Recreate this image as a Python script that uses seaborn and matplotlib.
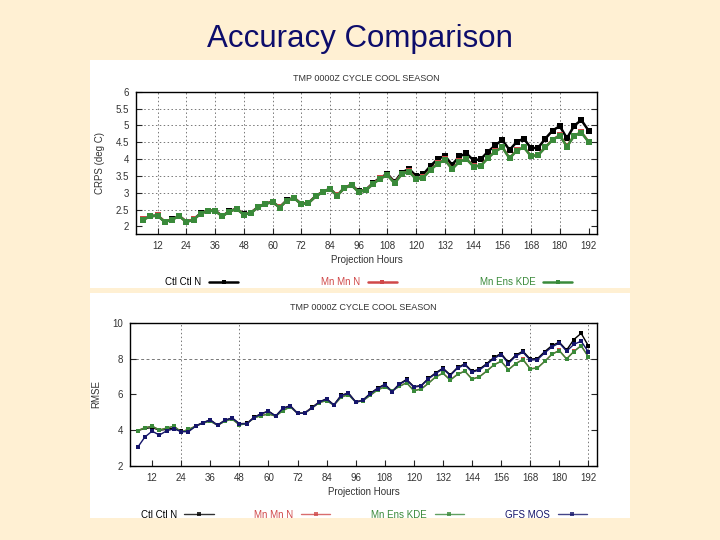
import matplotlib
matplotlib.use("Agg")
import matplotlib.pyplot as plt
from matplotlib.patches import Rectangle
import seaborn as sns

# ---- data -------------------------------------------------------------
hours = list(range(6, 193, 3))
x_ticks = [12, 24, 36, 48, 60, 72, 84, 96, 108, 120, 132, 144, 156, 168, 180, 192]

# top panel: CRPS
crps_ctl = [2.21, 2.31, 2.32, 2.14, 2.21, 2.31, 2.14, 2.21, 2.39, 2.47,
            2.47, 2.31, 2.45, 2.53, 2.36, 2.41, 2.58, 2.68, 2.73, 2.57,
            2.78, 2.85, 2.67, 2.70, 2.90, 3.03, 3.12, 2.92, 3.15, 3.24,
            3.04, 3.09, 3.29, 3.45, 3.56, 3.32, 3.60, 3.71, 3.50, 3.55,
            3.80, 4.00, 4.10, 3.83, 4.08, 4.17, 3.96, 4.00, 4.22, 4.41,
            4.57, 4.27, 4.51, 4.61, 4.32, 4.34, 4.61, 4.85, 4.98, 4.62,
            4.99, 5.16, 4.85]
crps_mn = [2.21, 2.30, 2.33, 2.14, 2.20, 2.31, 2.14, 2.21, 2.38, 2.47,
           2.46, 2.31, 2.44, 2.53, 2.35, 2.41, 2.57, 2.68, 2.72, 2.57,
           2.77, 2.85, 2.66, 2.70, 2.89, 3.03, 3.11, 2.92, 3.14, 3.23,
           3.03, 3.08, 3.27, 3.43, 3.53, 3.29, 3.56, 3.64, 3.41, 3.46,
           3.69, 3.87, 3.99, 3.71, 3.93, 4.01, 3.79, 3.81, 4.04, 4.23,
           4.36, 4.03, 4.26, 4.36, 4.09, 4.13, 4.36, 4.58, 4.71, 4.38,
           4.70, 4.80, 4.52]
crps_kde = [2.20, 2.30, 2.32, 2.13, 2.20, 2.31, 2.13, 2.20, 2.38, 2.46,
            2.46, 2.30, 2.44, 2.52, 2.35, 2.40, 2.57, 2.67, 2.72, 2.56,
            2.77, 2.84, 2.66, 2.69, 2.89, 3.02, 3.11, 2.91, 3.14, 3.22,
            3.02, 3.07, 3.26, 3.42, 3.52, 3.28, 3.55, 3.63, 3.40, 3.45,
            3.68, 3.86, 3.98, 3.70, 3.92, 4.00, 3.78, 3.80, 4.03, 4.22,
            4.35, 4.02, 4.25, 4.35, 4.08, 4.12, 4.35, 4.57, 4.70, 4.37,
            4.69, 4.79, 4.51]
crps_yticks = [2, 2.5, 3, 3.5, 4, 4.5, 5, 5.5, 6]
crps_ylabels = ["2", "2.5", "3", "3.5", "4", "4.5", "5", "5.5", "6"]

# bottom panel: RMSE
rmse_ctl = [3.98, 4.10, 4.15, 4.00, 4.05, 4.12, 3.93, 3.95, 4.25, 4.43,
            4.58, 4.29, 4.56, 4.69, 4.37, 4.38, 4.72, 4.93, 5.07, 4.80,
            5.24, 5.37, 4.96, 4.98, 5.28, 5.59, 5.76, 5.42, 5.96, 6.08,
            5.59, 5.69, 6.06, 6.35, 6.57, 6.17, 6.59, 6.84, 6.44, 6.50,
            6.90, 7.21, 7.47, 7.10, 7.51, 7.71, 7.29, 7.41, 7.72, 8.07,
            8.29, 7.79, 8.20, 8.42, 7.98, 8.01, 8.40, 8.74, 8.92, 8.48,
            9.07, 9.42, 8.72]
rmse_mn = [3.98, 4.14, 4.22, 4.02, 4.12, 4.22, 3.91, 4.05, 4.23, 4.41,
           4.51, 4.28, 4.51, 4.63, 4.31, 4.37, 4.68, 4.83, 4.91, 4.79,
           5.11, 5.31, 4.95, 4.97, 5.25, 5.56, 5.66, 5.41, 5.86, 5.99,
           5.58, 5.66, 5.96, 6.26, 6.43, 6.21, 6.46, 6.66, 6.22, 6.31,
           6.63, 6.99, 7.19, 6.82, 7.13, 7.31, 6.87, 6.99, 7.31, 7.66,
           7.86, 7.39, 7.73, 7.96, 7.44, 7.49, 7.86, 8.26, 8.46, 7.99,
           8.41, 8.73, 8.11]
rmse_kde = [3.97, 4.14, 4.23, 4.01, 4.12, 4.23, 3.90, 4.05, 4.23, 4.40,
            4.50, 4.28, 4.50, 4.62, 4.30, 4.36, 4.68, 4.82, 4.90, 4.79,
            5.10, 5.30, 4.95, 4.96, 5.24, 5.55, 5.65, 5.40, 5.85, 5.98,
            5.57, 5.65, 5.95, 6.25, 6.42, 6.20, 6.45, 6.65, 6.20, 6.30,
            6.62, 6.98, 7.18, 6.80, 7.12, 7.30, 6.85, 6.98, 7.30, 7.65,
            7.85, 7.38, 7.72, 7.95, 7.43, 7.48, 7.85, 8.25, 8.45, 7.98,
            8.40, 8.72, 8.10]
rmse_mos = [3.04, 3.62, 3.95, 3.73, 3.97, 4.08, 3.92, 3.92, 4.23, 4.42,
            4.57, 4.27, 4.55, 4.68, 4.36, 4.36, 4.70, 4.92, 5.05, 4.79,
            5.22, 5.35, 4.94, 4.96, 5.26, 5.57, 5.74, 5.40, 5.94, 6.06,
            5.57, 5.67, 6.04, 6.33, 6.54, 6.15, 6.56, 6.80, 6.41, 6.47,
            6.87, 7.17, 7.43, 7.06, 7.47, 7.66, 7.25, 7.36, 7.67, 8.01,
            8.23, 7.73, 8.14, 8.36, 7.92, 7.95, 8.33, 8.66, 8.88, 8.42,
            8.80, 8.98, 8.38]
rmse_yticks = [2, 4, 6, 8, 10]

panel_title = "TMP 0000Z CYCLE COOL SEASON"

# ---- style ------------------------------------------------------------
sns.set_style("white")
plt.rcParams["font.family"] = ["Liberation Sans", "DejaVu Sans"]

BG = "#FFF0D3"
C_CTL = "#000000"
C_MN = "#D04848"
C_KDE = "#3A8A3A"
C_MOS = "#15156A"
TXT = "#333333"


def style_axes(ax, xlim, ylim, yticks, ylabels, ylabel, fs=7):
    ax.set_xlim(*xlim)
    ax.set_ylim(*ylim)
    ax.set_xticks(x_ticks)
    ax.set_xticklabels([str(t) for t in x_ticks])
    ax.set_yticks(yticks)
    ax.set_yticklabels(ylabels)
    ax.tick_params(direction="in", length=4, width=0.8, labelsize=fs,
                   labelcolor=TXT, right=True, left=True, bottom=True, pad=5)
    for s in ax.spines.values():
        s.set_color("black")
        s.set_linewidth(1.0)
    ax.set_xlabel("Projection Hours", fontsize=fs, color=TXT, labelpad=3)
    ax.set_ylabel(ylabel, fontsize=fs, color=TXT, labelpad=8)
    ax.set_facecolor("white")


fig = plt.figure(figsize=(7.2, 5.4), dpi=100, facecolor=BG)

# white panels behind the two charts
fig.patches.append(Rectangle((0.125, 0.467), 0.75, 0.422, transform=fig.transFigure,
                             facecolor="white", edgecolor="none", zorder=-10))
fig.patches.append(Rectangle((0.125, 0.041), 0.75, 0.417, transform=fig.transFigure,
                             facecolor="white", edgecolor="none", zorder=-10))

fig.text(0.5, 0.927, "Accuracy Comparison", ha="center", va="center",
         fontsize=22.5, color="#0D0D6B")

# ---- top panel --------------------------------------------------------
ax1 = fig.add_axes([0.189, 0.567, 0.640, 0.263])
for t in x_ticks[:-1]:
    ax1.axvline(t, color="#777777", lw=0.7, ls=(0, (1.5, 2.5)), zorder=0)
for t in crps_yticks[1:-1]:
    ax1.axhline(t, color="#777777", lw=0.7, ls=(0, (1.5, 2.5)), zorder=0)

for vals, col, lab in [(crps_ctl, C_CTL, "Ctl Ctl N"),
                       (crps_mn, C_MN, "Mn Mn N"),
                       (crps_kde, C_KDE, "Mn Ens KDE")]:
    sns.lineplot(x=hours, y=vals, color=col, lw=1.8, marker="s", ms=4.4,
                 markeredgewidth=0, label=lab, ax=ax1)

style_axes(ax1, (3, 195.5), (1.78, 6), crps_yticks, crps_ylabels, "CRPS (deg C)")
ax1.set_title(panel_title, fontsize=6.5, color=TXT, pad=8)
leg1 = ax1.legend(loc="upper center", bbox_to_anchor=(0.505, -0.245), ncol=3,
                  frameon=False, markerfirst=False, fontsize=7,
                  handlelength=3.0, columnspacing=8.5, labelcolor="linecolor")
for h in leg1.legend_handles:
    h.set_markersize(3)
    h.set_linewidth(1.8)

# ---- bottom panel -----------------------------------------------------
ax2 = fig.add_axes([0.181, 0.137, 0.648, 0.265])
for t in [24, 48, 168, 192]:
    ax2.axvline(t, color="#777777", lw=0.7, ls=(0, (1.5, 2.5)), zorder=0)
ax2.axhline(8, color="#777777", lw=0.7, ls=(0, (3, 2.5)), zorder=0)

for vals, col, lab in [(rmse_ctl, C_CTL, "Ctl Ctl N"),
                       (rmse_mn, C_MN, "Mn Mn N"),
                       (rmse_kde, C_KDE, "Mn Ens KDE"),
                       (rmse_mos, C_MOS, "GFS MOS")]:
    sns.lineplot(x=hours, y=vals, color=col, lw=1.0, marker="s", ms=3.2,
                 markeredgewidth=0, label=lab, ax=ax2)

style_axes(ax2, (3, 195.5), (2, 10), rmse_yticks,
           [str(t) for t in rmse_yticks], "RMSE")
ax2.set_title(panel_title, fontsize=6.5, color=TXT, pad=9)
leg2 = ax2.legend(loc="upper center", bbox_to_anchor=(0.5, -0.245), ncol=4,
                  frameon=False, markerfirst=False, fontsize=7,
                  handlelength=3.0, columnspacing=4.2, labelcolor="linecolor")
for h in leg2.legend_handles:
    h.set_markersize(3)
    h.set_alpha(0.8)

fig.savefig("out.png", dpi=100, facecolor=BG)
